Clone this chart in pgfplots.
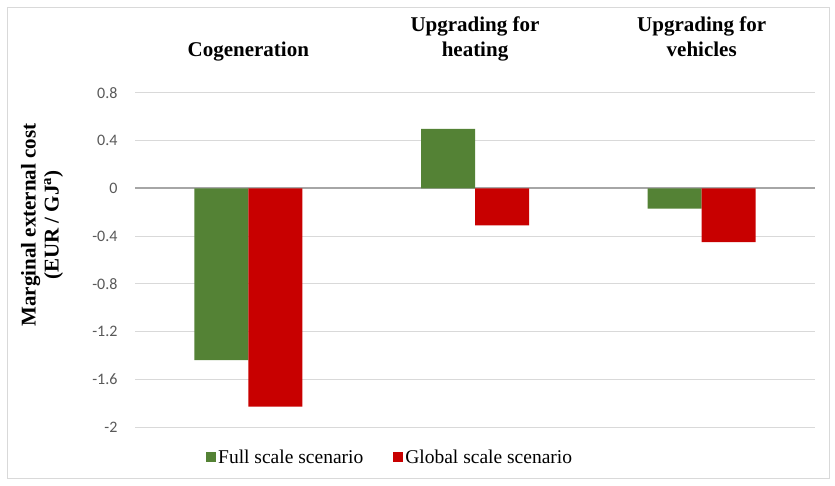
\documentclass[border=0pt]{standalone}
\usepackage{pgfplots}
\pgfplotsset{compat=1.18}
\usepackage{fontspec}
\setmainfont{Liberation Serif}
\newfontfamily\tickfont{Carlito}
\definecolor{fgreen}{RGB}{84,130,53}
\definecolor{fred}{RGB}{200,0,0}
\definecolor{tickgray}{RGB}{89,89,89}
\definecolor{gridgray}{RGB}{217,217,217}
\definecolor{zerogray}{RGB}{166,166,166}
\begin{document}
\begin{tikzpicture}
\useasboundingbox (0,0) rectangle (835pt,-486pt);
\fill[white] (0,0) rectangle (835pt,-486pt);
\draw[color=gridgray, line width=1pt] (7pt,-8pt) rectangle (829pt,-478pt);
\begin{axis}[
  at={(135pt,-427pt)}, anchor=south west,
  scale only axis, width=680pt, height=334pt,
  xmin=-0.5, xmax=2.5, ymin=-2, ymax=0.8,
  ybar=0pt, bar width=54pt,
  xtick={0,1,2},
  xticklabels={Cogeneration,{Upgrading for\\heating},{Upgrading for\\vehicles}},
  xticklabel pos=upper,
  xticklabel style={align=center, font=\bfseries\fontsize{21}{25}\selectfont, text depth=5pt, anchor=south, yshift=28pt},
  ytick={-2,-1.6,-1.2,-0.8,-0.4,0,0.4,0.8},
  yticklabels={-2,-1.6,-1.2,-0.8,-0.4,0,0.4,0.8},
  yticklabel style={font=\tickfont\fontsize{16}{16}\selectfont, text=tickgray, xshift=-14pt},
  ymajorgrids, grid style={color=gridgray, line width=1pt},
  major tick length=0pt,
  axis line style={draw=none},
  extra y ticks={0}, extra y tick labels={},
  extra y tick style={grid style={color=zerogray, line width=2pt}},
  legend style={at={(0.1,-0.09)}, anchor=west, draw=none, fill=none,
    legend columns=2, font=\fontsize{19.5}{20}\selectfont,
    /tikz/every even column/.append style={column sep=28pt}},
  legend image code/.code={\fill[#1,draw=none] (0pt,-5pt) rectangle (10pt,5pt);},
]
\addplot[fill=fgreen, draw=none] coordinates {(0,-1.44) (1,0.50) (2,-0.17)};
\addplot[fill=fred, draw=none] coordinates {(0,-1.83) (1,-0.31) (2,-0.45)};
\legend{Full scale scenario, Global scale scenario}
\end{axis}
\node[rotate=90, align=center, font=\bfseries\fontsize{21}{23}\selectfont] at (42pt,-225pt) {Marginal external cost\\(EUR / GJ\textsuperscript{a})};
\end{tikzpicture}
\end{document}
